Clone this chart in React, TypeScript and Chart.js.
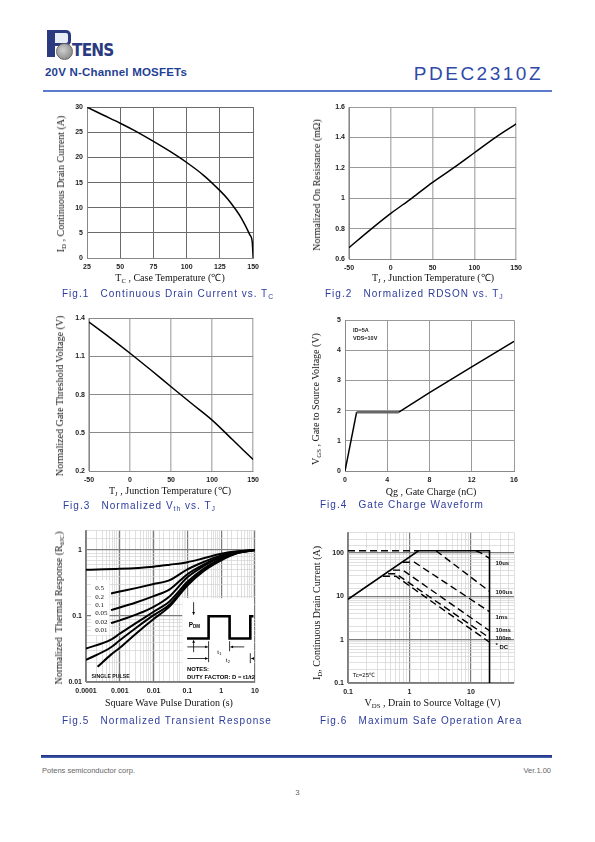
import React, { useEffect, useRef } from "react";
import { Chart, registerables } from "chart.js";
Chart.register(...registerables);

// ---------------- data ----------------
// Fig.1 Continuous drain current vs Tc
const fig1Temp = [25, 37.5, 50, 62.5, 75, 87.5, 100, 112.5, 125, 131, 137, 141, 145, 147.5, 149.3, 150];
const fig1Current = [30, 28.4, 26.8, 25.1, 23.2, 21.2, 19, 16.5, 13.4, 11.7, 9.6, 8.0, 6.0, 4.6, 3.2, 0];
const fig1XTicks = [25, 50, 75, 100, 125, 150];
const fig1YTicks = [0, 5, 10, 15, 20, 25, 30];

// Fig.2 Normalized RDSON vs Tj
const fig2Temp = [-50, -25, 0, 25, 50, 75, 100, 125, 150];
const fig2Rdson = [0.675, 0.79, 0.9, 1.0, 1.105, 1.2, 1.3, 1.4, 1.49];
const fig2XTicks = [-50, 0, 50, 100, 150];
const fig2YTicks = [0.6, 0.8, 1, 1.2, 1.4, 1.6];

// Fig.3 Normalized Vth vs Tj
const fig3Temp = [-50, -25, 0, 25, 50, 75, 100, 125, 150];
const fig3Vth = [1.37, 1.25, 1.125, 0.995, 0.862, 0.73, 0.6, 0.445, 0.29];
const fig3XTicks = [-50, 0, 50, 100, 150];
const fig3YTicks = [0.2, 0.5, 0.8, 1.1, 1.4];

// Fig.4 Gate charge
const fig4Qg = [0, 1.1, 5.1, 8, 12, 16];
const fig4Vgs = [0, 1.95, 1.95, 2.6, 3.45, 4.3];
const fig4XTicks = [0, 4, 8, 12, 16];
const fig4YTicks = [0, 1, 2, 3, 4, 5];
const fig4Notes = ["ID=5A", "VDS=10V"];

// Fig.5 Normalized transient thermal response
const fig5DutyLabels = ["0.5", "0.2", "0.1", "0.05", "0.02", "0.01"];
const fig5X_D05 = [0.0001, 0.001, 0.01, 0.03, 0.1, 0.3, 1, 3, 10];
const fig5Y_D05 = [0.505, 0.52, 0.56, 0.6, 0.655, 0.75, 0.88, 0.96, 1.0];
const fig5X_mid = [0.00055, 0.001, 0.003, 0.01, 0.03, 0.1, 0.3, 1, 3, 10];
const fig5Y_D02 = [0.22, 0.235, 0.265, 0.305, 0.35, 0.51, 0.66, 0.83, 0.94, 1];
const fig5Y_D01 = [0.123, 0.135, 0.16, 0.2, 0.254, 0.43, 0.6, 0.8, 0.93, 1];
const fig5Y_D005 = [0.078, 0.086, 0.105, 0.138, 0.2, 0.387, 0.57, 0.78, 0.92, 1];
const fig5X_low = [0.0001, 0.00055, 0.001, 0.003, 0.01, 0.03, 0.1, 0.3, 1, 3, 10];
const fig5Y_D002 = [0.032, 0.044, 0.054, 0.078, 0.116, 0.168, 0.33, 0.52, 0.74, 0.91, 1];
const fig5Y_D001 = [0.0216, 0.0336, 0.043, 0.066, 0.103, 0.15, 0.31, 0.5, 0.72, 0.9, 1];
const fig5X_single = [0.00022, 0.00055, 0.001, 0.003, 0.01, 0.03, 0.1, 0.3, 1, 3, 10];
const fig5Y_single = [0.017, 0.026, 0.033, 0.054, 0.09, 0.14, 0.29, 0.48, 0.7, 0.9, 1];
const fig5XLabels = ["0.0001", "0.001", "0.01", "0.1", "1", "10"];
const fig5YLabels = ["0.01", "0.1", "1"];

// Fig.6 Safe operating area
const fig6LimitV = [0.1, 1.4, 20, 20];
const fig6LimitI = [8.5, 112, 112, 0.1];
const fig6TopV = [0.1, 1.4];
const fig6TopI = [112, 112];
const fig6V_10us = [12, 15, 20];
const fig6I_10us = [112, 97, 75];
const fig6V_100us = [2.7, 20];
const fig6I_100us = [112, 13];
const fig6V_1ms = [0.78, 1.2, 20];
const fig6I_1ms = [61, 61, 4.4];
const fig6V_10ms = [0.54, 0.78, 20];
const fig6I_10ms = [40, 40, 1.6];
const fig6V_100ms = [0.45, 0.6, 20];
const fig6I_100ms = [33, 33, 1.1];
const fig6V_DC = [0.37, 0.6, 20];
const fig6I_DC = [29, 29, 0.87];
const fig6Names = ["10us", "100us", "1ms", "10ms", "100m", "DC"];
const fig6NameAt = [58, 12.6, 3.2, 1.62, 1.09, 0.65];
const fig6XLabels = ["0.1", "1", "10"];
const fig6YLabels = ["0.1", "1", "10", "100"];

// ---------------- helpers ----------------
type Pt = { x: number; y: number };
const zip = (xs: number[], ys: number[]): Pt[] => xs.map((x, i) => ({ x, y: ys[i] }));
const SANS = "'Liberation Sans', Arial, sans-serif";
const SERIF = "'Liberation Serif', 'Times New Roman', serif";
const TICK_FONT = { family: SANS, size: 7, weight: "bold" as const };
const PAD = { l: 36, t: 8, r: 10, b: 18 };

const linAxis = (axis: "x" | "y", ticks: number[], gridColor: string, gridWidth: number) => ({
  type: "linear",
  min: ticks[0],
  max: ticks[ticks.length - 1],
  afterBuildTicks: (s: any) => {
    s.ticks = ticks.map((v) => ({ value: v }));
  },
  afterFit: (s: any) => {
    if (axis === "x") s.height = PAD.b;
    else s.width = PAD.l;
  },
  grid: { color: gridColor, lineWidth: gridWidth, drawTicks: false },
  border: { display: true, color: "#888", width: 1 },
  ticks: {
    font: TICK_FONT,
    color: "#222",
    padding: axis === "x" ? 5 : 4,
    maxRotation: 0,
    autoSkip: false,
    callback: (v: any) => String(v),
  },
});

const isDecade = (v: number) => {
  const l = Math.log10(v);
  return Math.abs(l - Math.round(l)) < 1e-6;
};

const logAxis = (axis: "x" | "y", min: number, max: number, labels: string[]) => ({
  type: "logarithmic",
  min,
  max,
  afterFit: (s: any) => {
    if (axis === "x") s.height = PAD.b;
    else s.width = PAD.l;
  },
  grid: {
    color: (c: any) => (c.tick && isDecade(c.tick.value) ? "#7c7c7c" : "#d2d2d2"),
    lineWidth: (c: any) => (c.tick && isDecade(c.tick.value) ? 1.2 : 0.7),
    drawTicks: false,
  },
  border: { display: true, color: "#888", width: 1 },
  ticks: {
    font: TICK_FONT,
    color: "#222",
    padding: axis === "x" ? 5 : 4,
    maxRotation: 0,
    autoSkip: false,
    callback: (v: any) => {
      const n = Number(v);
      if (!isDecade(n)) return "";
      const idx = Math.round(Math.log10(n)) - Math.round(Math.log10(min));
      return labels[idx] ?? "";
    },
  },
});

const baseOptions = (scales: any) => ({
  responsive: false,
  animation: false,
  devicePixelRatio: 1,
  layout: { padding: { left: 0, top: PAD.t, right: PAD.r, bottom: 0 } },
  plugins: { legend: { display: false }, tooltip: { enabled: false } },
  elements: { point: { radius: 0 } },
  scales,
});

const lineDs = (data: Pt[], extra: any = {}) => ({
  data,
  borderColor: "#000",
  borderWidth: 1.5,
  pointRadius: 0,
  fill: false,
  ...extra,
});

function arrow(ctx: CanvasRenderingContext2D, x1: number, y1: number, x2: number, y2: number) {
  ctx.beginPath();
  ctx.moveTo(x1, y1);
  ctx.lineTo(x2, y2);
  ctx.stroke();
  const a = Math.atan2(y2 - y1, x2 - x1);
  const h = 3;
  ctx.beginPath();
  ctx.moveTo(x2, y2);
  ctx.lineTo(x2 - h * Math.cos(a - 0.5), y2 - h * Math.sin(a - 0.5));
  ctx.lineTo(x2 - h * Math.cos(a + 0.5), y2 - h * Math.sin(a + 0.5));
  ctx.closePath();
  ctx.fill();
}

// ---------------- overlay plugins ----------------
const fig4Overlay = {
  id: "fig4Overlay",
  afterDatasetsDraw(chart: any) {
    const { ctx, chartArea: ca } = chart;
    ctx.save();
    ctx.fillStyle = "#222";
    ctx.font = `bold 5.5px ${SANS}`;
    ctx.textBaseline = "middle";
    fig4Notes.forEach((t, i) => ctx.fillText(t, ca.left + 8, ca.top + 10 + i * 8.3));
    ctx.restore();
  },
};

const fig5Overlay = {
  id: "fig5Overlay",
  afterDatasetsDraw(chart: any) {
    const { ctx, chartArea: ca } = chart;
    ctx.save();
    // duty-cycle label box
    const bx = ca.left + 5, by = ca.top + 50;
    ctx.fillStyle = "#fff";
    ctx.fillRect(bx, by, 18.5, 55);
    ctx.fillStyle = "#111";
    ctx.font = `7px ${SERIF}`;
    ctx.textBaseline = "middle";
    ctx.textAlign = "left";
    fig5DutyLabels.forEach((t, i) => ctx.fillText(t, bx + 4.3, by + 8.3 + i * 8.3));
    ctx.font = `bold 5.8px ${SANS}`;
    ctx.fillText("SINGLE PULSE", ca.left + 5.6, ca.bottom - 6, 38);

    // duty factor inset
    const ox = ca.left + 96.3, oy = ca.top + 68;
    ctx.fillStyle = "#fff";
    ctx.fillRect(ox, oy, ca.right - ox - 1, ca.bottom - oy - 1);
    ctx.strokeStyle = "#000";
    ctx.fillStyle = "#000";
    ctx.lineWidth = 2.6;
    ctx.lineJoin = "miter";
    ctx.beginPath();
    ctx.moveTo(ox + 4.7, oy + 40.3);
    ctx.lineTo(ox + 26.3, oy + 40.3);
    ctx.lineTo(ox + 26.3, oy + 18);
    ctx.lineTo(ox + 47.3, oy + 18);
    ctx.lineTo(ox + 47.3, oy + 40.3);
    ctx.lineTo(ox + 68, oy + 40.3);
    ctx.lineTo(ox + 68, oy + 18);
    ctx.lineTo(ca.right - 1.5, oy + 18);
    ctx.stroke();
    ctx.lineWidth = 0.8;
    arrow(ctx, ox + 11.3, oy + 4, ox + 11.3, oy + 16.5);
    arrow(ctx, ox + 11.3, oy + 54, ox + 11.3, oy + 42);
    arrow(ctx, ox + 5, oy + 48.7, ox + 25.5, oy + 48.7);
    arrow(ctx, ox + 62, oy + 48.7, ox + 48.2, oy + 48.7);
    arrow(ctx, ox + 5, oy + 60.3, ox + 25.5, oy + 60.3);
    arrow(ctx, ca.right - 1, oy + 60.3, ox + 69, oy + 60.3);
    ctx.beginPath();
    ctx.moveTo(ox + 26.3, oy + 43); ctx.lineTo(ox + 26.3, oy + 64);
    ctx.moveTo(ox + 47.3, oy + 43); ctx.lineTo(ox + 47.3, oy + 53);
    ctx.moveTo(ox + 68, oy + 55); ctx.lineTo(ox + 68, oy + 65);
    ctx.stroke();
    ctx.textBaseline = "middle";
    ctx.font = `bold 6.5px ${SANS}`;
    ctx.fillText("P", ox + 6.5, oy + 27);
    ctx.font = `bold 4.5px ${SANS}`;
    ctx.fillText("DM", ox + 10.6, oy + 29);
    ctx.font = `6px ${SANS}`;
    ctx.fillText("t", ox + 35, oy + 53.7);
    ctx.font = `4px ${SANS}`;
    ctx.fillText("1", ox + 37, oy + 55.5);
    ctx.font = `6px ${SANS}`;
    ctx.fillText("t", ox + 43.5, oy + 62);
    ctx.font = `4px ${SANS}`;
    ctx.fillText("2", ox + 45.5, oy + 63.8);
    ctx.font = `bold 6px ${SANS}`;
    ctx.fillText("NOTES:", ox + 4.7, oy + 71.5, 22);
    ctx.fillText("DUTY FACTOR: D = t1/t2", ox + 4.7, oy + 79, 68);
    ctx.restore();
  },
};

const fig6Overlay = {
  id: "fig6Overlay",
  afterDatasetsDraw(chart: any) {
    const { ctx, scales } = chart;
    const x = scales.x, y = scales.y;
    ctx.save();
    ctx.fillStyle = "#111";
    ctx.textBaseline = "middle";
    ctx.textAlign = "left";
    ctx.font = `bold 6px ${SANS}`;
    const lx = x.getPixelForValue(25);
    fig6Names.forEach((t, i) => {
      const py = y.getPixelForValue(fig6NameAt[i]);
      if (t === "DC") {
        ctx.fillText("*", lx, py - 2);
        ctx.fillText(t, lx + 4, py);
      } else ctx.fillText(t, lx, py);
    });
    ctx.font = `6px ${SANS}`;
    ctx.fillText("Tc=25\u2103", x.getPixelForValue(0.12), y.getPixelForValue(0.15));
    ctx.restore();
  },
};

// ---------------- chart configs ----------------
const fig1Config = () => ({
  type: "line",
  data: { datasets: [lineDs(zip(fig1Temp, fig1Current), { cubicInterpolationMode: "monotone" })] },
  options: baseOptions({
    x: linAxis("x", fig1XTicks, "#6a6a6a", 1),
    y: linAxis("y", fig1YTicks, "#6a6a6a", 1),
  }),
});

const fig2Config = () => ({
  type: "line",
  data: { datasets: [lineDs(zip(fig2Temp, fig2Rdson), { cubicInterpolationMode: "monotone" })] },
  options: baseOptions({
    x: linAxis("x", fig2XTicks, "#b8b8b8", 1.5),
    y: linAxis("y", fig2YTicks, "#9a9a9a", 1),
  }),
});

const fig3Config = () => ({
  type: "line",
  data: { datasets: [lineDs(zip(fig3Temp, fig3Vth), { cubicInterpolationMode: "monotone" })] },
  options: baseOptions({
    x: linAxis("x", fig3XTicks, "#b8b8b8", 1.5),
    y: linAxis("y", fig3YTicks, "#8a8a8a", 1),
  }),
});

const fig4Config = () => ({
  type: "line",
  data: {
    datasets: [
      lineDs(zip(fig4Qg, fig4Vgs), {
        segment: {
          borderColor: (c: any) => (c.p0.parsed.y === c.p1.parsed.y ? "#666" : "#000"),
          borderWidth: (c: any) => (c.p0.parsed.y === c.p1.parsed.y ? 2.6 : 1.5),
        },
      }),
    ],
  },
  options: baseOptions({
    x: linAxis("x", fig4XTicks, "#9a9a9a", 1),
    y: linAxis("y", fig4YTicks, "#9a9a9a", 1),
  }),
  plugins: [fig4Overlay],
});

const fig5Config = () => ({
  type: "line",
  data: {
    datasets: [
      [fig5X_D05, fig5Y_D05],
      [fig5X_mid, fig5Y_D02],
      [fig5X_mid, fig5Y_D01],
      [fig5X_mid, fig5Y_D005],
      [fig5X_low, fig5Y_D002],
      [fig5X_low, fig5Y_D001],
      [fig5X_single, fig5Y_single],
    ].map(([xs, ys]) => lineDs(zip(xs, ys), { borderWidth: 2, cubicInterpolationMode: "monotone" })),
  },
  options: baseOptions({
    x: logAxis("x", 0.0001, 10, fig5XLabels),
    y: logAxis("y", 0.01, 2, fig5YLabels),
  }),
  plugins: [fig5Overlay],
});

const dash = { borderDash: [7, 4], borderWidth: 1.4 };
const fig6Config = () => ({
  type: "line",
  data: {
    datasets: [
      lineDs(zip(fig6LimitV, fig6LimitI), { borderWidth: 1.6 }),
      lineDs(zip(fig6TopV, fig6TopI), dash),
      lineDs(zip(fig6V_10us, fig6I_10us), dash),
      lineDs(zip(fig6V_100us, fig6I_100us), dash),
      lineDs(zip(fig6V_1ms, fig6I_1ms), dash),
      lineDs(zip(fig6V_10ms, fig6I_10ms), dash),
      lineDs(zip(fig6V_100ms, fig6I_100ms), dash),
      lineDs(zip(fig6V_DC, fig6I_DC), dash),
    ],
  },
  options: baseOptions({
    x: logAxis("x", 0.1, 50, fig6XLabels),
    y: logAxis("y", 0.1, 300, fig6YLabels),
  }),
  plugins: [fig6Overlay],
});

// ---------------- components ----------------
type Rect = { x: number; y: number; w: number; h: number };

function Plot({ rect, make }: { rect: Rect; make: () => any }) {
  const ref = useRef<HTMLCanvasElement>(null);
  const W = rect.w + PAD.l + PAD.r;
  const H = rect.h + PAD.t + PAD.b;
  useEffect(() => {
    const chart = new Chart(ref.current as HTMLCanvasElement, make());
    return () => chart.destroy();
  }, []);
  return (
    <canvas
      ref={ref}
      width={W}
      height={H}
      style={{ position: "absolute", left: rect.x - PAD.l, top: rect.y - PAD.t, width: W, height: H }}
    />
  );
}

function Txt({
  x, y, align = "center", rotate = false, style = {}, children,
}: { x: number; y: number; align?: "left" | "center" | "right"; rotate?: boolean; style?: any; children: any }) {
  const tx = align === "center" ? "-50%" : align === "right" ? "-100%" : "0";
  return (
    <div
      style={{
        position: "absolute",
        left: x,
        top: y,
        transform: `translate(${tx}, -50%)${rotate ? " rotate(-90deg)" : ""}`,
        whiteSpace: "pre",
        lineHeight: 1,
        ...style,
      }}
    >
      {children}
    </div>
  );
}

const Sub = ({ children }: { children: any }) => (
  <sub style={{ fontSize: "0.68em", verticalAlign: "-0.25em", lineHeight: 0 }}>{children}</sub>
);

const axisTitle = { fontFamily: SERIF, fontSize: 10, color: "#111" };
const caption = { fontFamily: SANS, fontSize: 10, letterSpacing: 1, color: "#2d3c9c" };

export default function App() {
  return (
    <div style={{ position: "absolute", left: 0, top: 0, width: 595, height: 842, background: "#fff", overflow: "hidden" }}>
      {/* logo */}
      <div style={{ position: "absolute", left: 47, top: 30, width: 8, height: 27, background: "#2b3a80" }} />
      <div style={{ position: "absolute", left: 55, top: 30, width: 13, height: 10, border: "3px solid #2b3a80", borderLeft: "none", borderRadius: "0 5px 5px 0", background: "#e8ecf6" }} />
      <div style={{ position: "absolute", left: 56, top: 43, width: 15, height: 15, borderRadius: "50%", background: "radial-gradient(circle at 40% 40%, #cfcfcf, #7a7a7a)", border: "0.5px solid #666" }} />
      <div style={{ position: "absolute", left: 72, top: 42, fontFamily: "'DejaVu Sans Condensed', 'DejaVu Sans', sans-serif", fontWeight: "bold", fontSize: 17, color: "#2b3a80", lineHeight: 1, letterSpacing: -0.8 }}>TENS</div>

      <Txt x={45} y={73} align="left" style={{ fontFamily: SANS, fontWeight: "bold", fontSize: 11.5, letterSpacing: 0.2, color: "#1f3f94" }}>20V N-Channel MOSFETs</Txt>
      <Txt x={543} y={73} align="right" style={{ fontFamily: SANS, fontSize: 19, letterSpacing: 2.5, color: "#2f49a8" }}>PDEC2310Z</Txt>
      <div style={{ position: "absolute", left: 43, top: 90, width: 509, height: 2, background: "#5b7ccc" }} />

      {/* Fig 1 */}
      <Plot rect={{ x: 87, y: 107, w: 167, h: 151 }} make={fig1Config} />
      <Txt x={170} y={278} style={axisTitle}>T<Sub>C</Sub> , Case Temperature (℃)</Txt>
      <Txt x={60.5} y={184} rotate style={axisTitle}>I<Sub>D</Sub> , Continuous Drain Current (A)</Txt>
      <Txt x={62} y={294} align="left" style={caption}>Fig.1   Continuous Drain Current vs. T<Sub>C</Sub></Txt>

      {/* Fig 2 */}
      <Plot rect={{ x: 349, y: 107, w: 168, h: 152 }} make={fig2Config} />
      <Txt x={433} y={278} style={axisTitle}>T<Sub>J</Sub> , Junction Temperature (℃)</Txt>
      <Txt x={317} y={185} rotate style={axisTitle}>Normalized On Resistance (mΩ)</Txt>
      <Txt x={325} y={294} align="left" style={caption}>Fig.2   Normalized RDSON vs. T<Sub>J</Sub></Txt>

      {/* Fig 3 */}
      <Plot rect={{ x: 89, y: 318, w: 165, h: 153 }} make={fig3Config} />
      <Txt x={170} y={491} style={axisTitle}>T<Sub>J</Sub> , Junction Temperature (℃)</Txt>
      <Txt x={59.5} y={396} rotate style={axisTitle}>Normalized Gate Threshold Voltage (V)</Txt>
      <Txt x={63} y={506} align="left" style={caption}>Fig.3   Normalized V<Sub>th</Sub> vs. T<Sub>J</Sub></Txt>

      {/* Fig 4 */}
      <Plot rect={{ x: 345, y: 320, w: 169, h: 151 }} make={fig4Config} />
      <Txt x={431} y={492} style={axisTitle}>Qg , Gate Charge (nC)</Txt>
      <Txt x={316} y={399} rotate style={axisTitle}>V<Sub>GS</Sub> , Gate to Source Voltage (V)</Txt>
      <Txt x={320} y={505} align="left" style={caption}>Fig.4   Gate Charge Waveform</Txt>

      {/* Fig 5 */}
      <Plot rect={{ x: 86, y: 530, w: 169, h: 152 }} make={fig5Config} />
      <Txt x={169} y={702.5} style={axisTitle}>Square Wave Pulse Duration (s)</Txt>
      <Txt x={58.5} y={608} rotate style={axisTitle}>Normalized  Thermal Response (R<Sub>θJC</Sub>)</Txt>
      <Txt x={62} y={721} align="left" style={caption}>Fig.5   Normalized Transient Response</Txt>

      {/* Fig 6 */}
      <Plot rect={{ x: 348, y: 532, w: 166, h: 151 }} make={fig6Config} />
      <Txt x={432.5} y={703} style={axisTitle}>V<Sub>DS</Sub> , Drain to Source Voltage (V)</Txt>
      <Txt x={316.5} y={613} rotate style={axisTitle}>I<Sub>D</Sub>, Continuous Drain Current (A)</Txt>
      <Txt x={320} y={721} align="left" style={caption}>Fig.6   Maximum Safe Operation Area</Txt>

      {/* footer */}
      <div style={{ position: "absolute", left: 41, top: 755, width: 511, height: 3, background: "linear-gradient(#1a2a78, #4a64b8)" }} />
      <Txt x={42} y={770.5} align="left" style={{ fontFamily: SANS, fontSize: 7.5, color: "#666" }}>Potens semiconductor corp.</Txt>
      <Txt x={551} y={770.5} align="right" style={{ fontFamily: SANS, fontSize: 7.5, color: "#666" }}>Ver.1.00</Txt>
      <Txt x={297.5} y={793} style={{ fontFamily: SANS, fontSize: 8, color: "#666" }}>3</Txt>
    </div>
  );
}
